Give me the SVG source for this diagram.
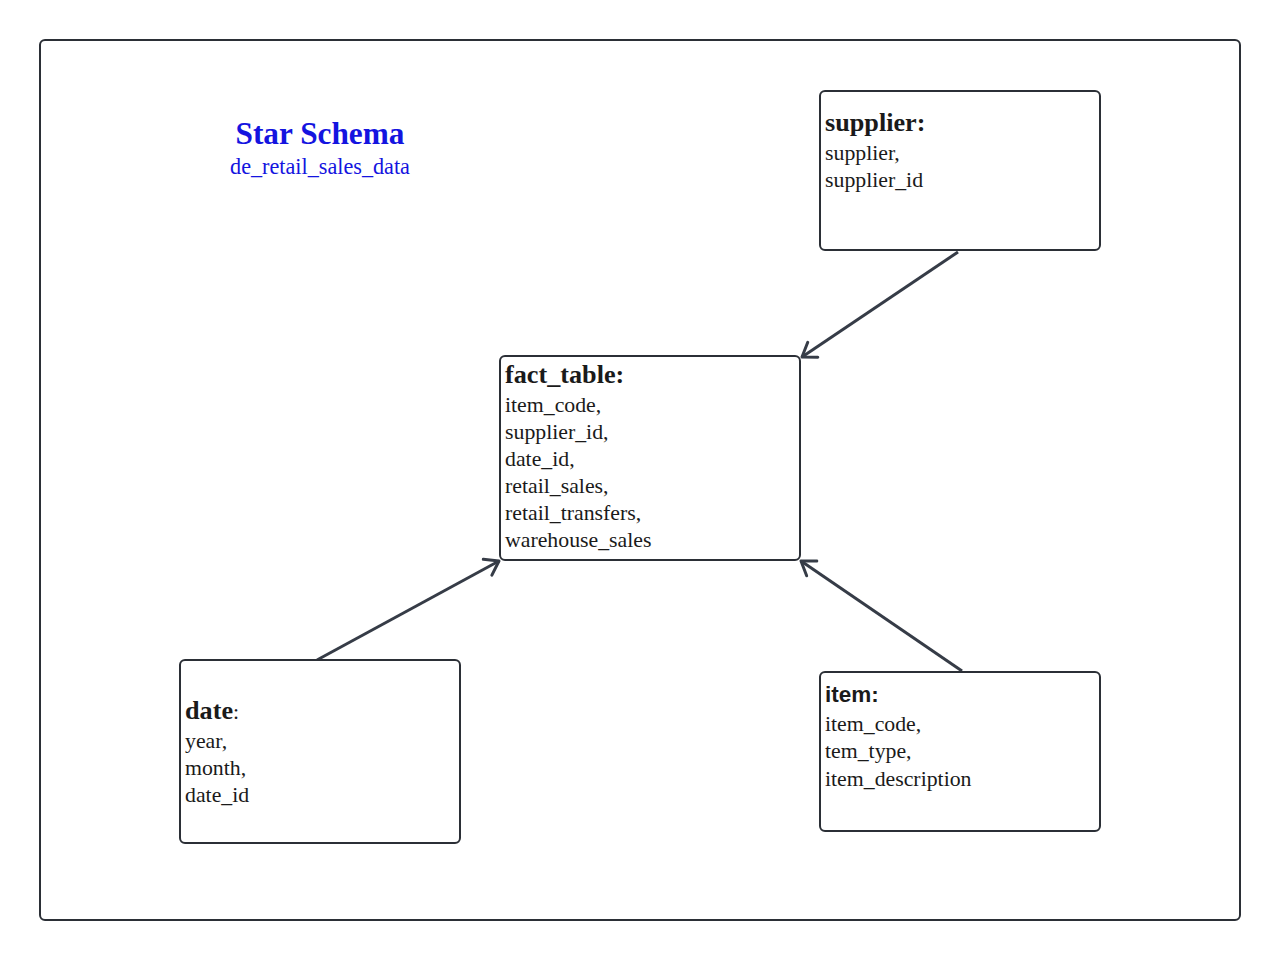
<svg xmlns="http://www.w3.org/2000/svg" width="1280" height="960" viewBox="0 0 1280 960">
<style>
.box{fill:#fff;stroke:#2b2f36;stroke-width:2}
.t{font-family:"Liberation Serif","Times New Roman",serif;font-size:21.8px;fill:#1a1a1a}
.h{font-family:"Liberation Serif","Times New Roman",serif;font-size:26.2px;font-weight:bold;fill:#1a1a1a}
.hs{font-family:"Liberation Sans",Arial,sans-serif;font-size:22.5px;font-weight:bold;fill:#1a1a1a}
.conn{stroke:#363c47;stroke-width:3;fill:none}
</style>
<defs>
<marker id="arr" markerUnits="userSpaceOnUse" markerWidth="30" markerHeight="30" refX="0" refY="0" viewBox="-15 -15 30 30" orient="auto">
<path d="M -13 -9 L 0 0 L -13 9" fill="none" stroke="#363c47" stroke-width="3" stroke-linecap="round" stroke-linejoin="round"/>
</marker>
</defs>
<rect x="0" y="0" width="1280" height="960" fill="#fff"/>
<rect x="40" y="40" width="1200" height="880" rx="5" fill="#fff" stroke="#2b2f36" stroke-width="2"/>
<g id="title">
<text x="320" y="144" text-anchor="middle" font-family="Liberation Serif, serif" font-size="31.3" font-weight="bold" fill="#1414e0">Star Schema</text>
<text x="320" y="174" text-anchor="middle" font-family="Liberation Serif, serif" font-size="22.2" fill="#1414e0">de_retail_sales_data</text>
</g>
<g id="connectors">
<line class="conn" x1="958" y1="252" x2="802" y2="357" marker-end="url(#arr)"/>
<line class="conn" x1="317" y1="660" x2="499" y2="561" marker-end="url(#arr)"/>
<line class="conn" x1="962" y1="671" x2="801" y2="561" marker-end="url(#arr)"/>
</g>
<g id="supplier">
<rect class="box" x="820" y="91" width="280" height="159" rx="5"/>
<text class="h" x="825" y="131">supplier:</text>
<text class="t" x="825" y="160">supplier,</text>
<text class="t" x="825" y="187">supplier_id</text>
</g>
<g id="fact_table">
<rect class="box" x="500" y="356" width="300" height="204" rx="5"/>
<text class="h" x="505" y="383">fact_table:</text>
<text class="t" x="505" y="412">item_code,</text>
<text class="t" x="505" y="439">supplier_id,</text>
<text class="t" x="505" y="466">date_id,</text>
<text class="t" x="505" y="493">retail_sales,</text>
<text class="t" x="505" y="520">retail_transfers,</text>
<text class="t" x="505" y="547">warehouse_sales</text>
</g>
<g id="date">
<rect class="box" x="180" y="660" width="280" height="183" rx="5"/>
<text x="185" y="719"><tspan class="h">date</tspan><tspan class="t" font-size="26">:</tspan></text>
<text class="t" x="185" y="748">year,</text>
<text class="t" x="185" y="775">month,</text>
<text class="t" x="185" y="802">date_id</text>
</g>
<g id="item">
<rect class="box" x="820" y="672" width="280" height="159" rx="5"/>
<text class="hs" x="825" y="702">item:</text>
<text class="t" x="825" y="731">item_code,</text>
<text class="t" x="825" y="758">tem_type,</text>
<text class="t" x="825" y="786">item_description</text>
</g>
</svg>
